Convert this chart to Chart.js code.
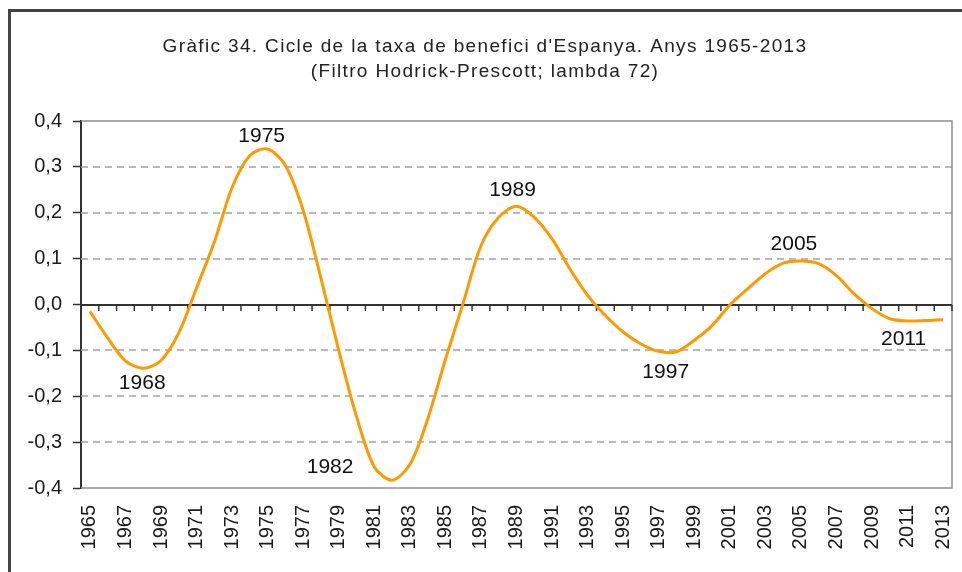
<!DOCTYPE html>
<html>
<head>
<meta charset="utf-8">
<title>Cicle de la taxa de benefici</title>
<script src="https://cdn.jsdelivr.net/npm/chart.js@4.4.1/dist/chart.umd.min.js"></script>
<style>
  html, body { margin: 0; padding: 0; background: #fff; }
  #wrap { position: relative; width: 962px; height: 572px; overflow: hidden; }
  #frame {
    position: absolute; left: 8px; top: 9px; width: 1000px; height: 600px;
    border-left: 3px solid #444; border-top: 3px solid #444;
    pointer-events: none;
  }
  canvas { position: absolute; left: 0; top: 0; }
</style>
</head>
<body>
<div id="wrap">
  <canvas id="cycleChart" width="962" height="572"></canvas>
  <div id="frame"></div>
</div>
<script>
const years = [];
for (let y = 1965; y <= 2013; y++) years.push(String(y));

// HP cycle of the profit rate, one value per year
const cycle = [
  -0.015, -0.073, -0.123, -0.139, -0.122, -0.062, 0.036, 0.136, 0.255, 0.325,
   0.339,  0.303,  0.205,  0.057, -0.100, -0.244, -0.354, -0.383, -0.349, -0.250,
  -0.120,  0.003,  0.128,  0.190,  0.214,  0.190,  0.143,  0.078,  0.020, -0.024,
  -0.060, -0.086, -0.102, -0.103, -0.078, -0.046, -0.001,  0.034,  0.067,  0.090,
   0.095,  0.089,  0.063,  0.023, -0.009, -0.031, -0.036, -0.035, -0.033
];

// turning points that get a year label
const turningYears = ["1968", "1975", "1982", "1989", "1997", "2005", "2011"];

const titleLines = [
  "Gràfic 34. Cicle de la taxa de benefici d'Espanya. Anys 1965-2013",
  "(Filtro Hodrick-Prescott; lambda 72)"
];

const FONT = '"Liberation Sans", Arial, sans-serif';
Chart.defaults.font.family = FONT;
Chart.defaults.color = "#1a1a1a";

// where each turning-point label sits relative to its point
const labelShift = {
  "1968": [-1, 15], "1975": [-6, -13], "1982": [-62, -13], "1989": [-4, -16],
  "1997": [7, 21], "2005": [-7, -17], "2011": [-4, 18]
};

const fmt = v => (Math.abs(v) < 1e-9 ? 0 : v).toFixed(1).replace(".", ",");

const plotDecor = {
  id: "plotDecor",
  beforeDatasetsDraw(chart) {
    const { ctx, chartArea: a, scales: { x, y } } = chart;
    ctx.save();
    // dashed gridlines
    ctx.strokeStyle = "#a3a3a3";
    ctx.lineWidth = 1.5;
    ctx.setLineDash([7, 5]);
    y.ticks.forEach(t => {
      if (Math.abs(t.value) < 1e-9 || Math.abs(Math.abs(t.value) - 0.4) < 1e-9) return;
      const py = Math.round(y.getPixelForValue(t.value));
      ctx.beginPath();
      ctx.moveTo(a.left, py);
      ctx.lineTo(a.right, py);
      ctx.stroke();
    });
    ctx.setLineDash([]);
    // plot area border
    ctx.strokeStyle = "#8f8f8f";
    ctx.beginPath();
    ctx.moveTo(a.left, a.top);
    ctx.lineTo(a.right, a.top);
    ctx.lineTo(a.right, a.bottom);
    ctx.lineTo(a.left, a.bottom);
    ctx.stroke();
    // zero axis with category ticks
    const y0 = Math.round(y.getPixelForValue(0));
    ctx.strokeStyle = "#333";
    ctx.lineWidth = 2;
    ctx.beginPath();
    ctx.moveTo(a.left, y0);
    ctx.lineTo(a.right, y0);
    ctx.stroke();
    ctx.lineWidth = 1.5;
    ctx.beginPath();
    for (let i = 1; i <= years.length; i++) {
      const px = i < years.length
        ? (x.getPixelForValue(i - 1) + x.getPixelForValue(i)) / 2
        : a.right;
      ctx.moveTo(px, y0);
      ctx.lineTo(px, y0 + 6);
    }
    ctx.stroke();
    ctx.restore();
  },
  afterDatasetsDraw(chart) {
    const { ctx, scales: { x, y } } = chart;
    ctx.save();
    ctx.fillStyle = "#111";
    ctx.font = "21px " + FONT;
    ctx.textAlign = "center";
    ctx.textBaseline = "middle";
    turningYears.forEach(yr => {
      const i = years.indexOf(yr);
      const [dx, dy] = labelShift[yr];
      ctx.fillText(yr, x.getPixelForValue(i) + dx, y.getPixelForValue(cycle[i]) + dy);
    });
    ctx.restore();
  },
  afterDraw(chart) {
    const ctx = chart.ctx;
    ctx.save();
    ctx.fillStyle = "#222";
    ctx.font = "19px " + FONT;
    ctx.letterSpacing = "1.35px";
    ctx.textAlign = "center";
    ctx.textBaseline = "alphabetic";
    ctx.fillText(titleLines[0], 485, 52);
    ctx.fillText(titleLines[1], 485, 77);
    ctx.restore();
  }
};

new Chart(document.getElementById("cycleChart"), {
  type: "line",
  data: {
    labels: years,
    datasets: [{
      data: cycle,
      borderColor: "#ff9900",
      borderWidth: 3,
      pointRadius: 0,
      tension: 0.3,
      fill: false
    }]
  },
  options: {
    responsive: false,
    animation: false,
    layout: { padding: { top: 121, right: 10, left: 0, bottom: 0 } },
    plugins: { legend: { display: false }, tooltip: { enabled: false } },
    scales: {
      x: {
        offset: true,
        grid: { display: false, drawTicks: false },
        border: { display: false },
        ticks: {
          autoSkip: false,
          minRotation: 90,
          maxRotation: 90,
          padding: 17,
          font: { size: 20 },
          callback: (v, i) => (i % 2 === 0 ? years[i] : "")
        },
        afterFit: s => { s.height = 84; s.paddingLeft = 0; s.paddingRight = 0; }
      },
      y: {
        min: -0.4,
        max: 0.4,
        grid: { drawOnChartArea: false, tickLength: 8, tickColor: "#333", tickWidth: 1.5 },
        border: { color: "#333", width: 2 },
        ticks: { stepSize: 0.1, padding: 11, font: { size: 20 }, callback: v => fmt(v) },
        afterFit: s => { s.width = 81; }
      }
    }
  },
  plugins: [plotDecor]
});
</script>
</body>
</html>
